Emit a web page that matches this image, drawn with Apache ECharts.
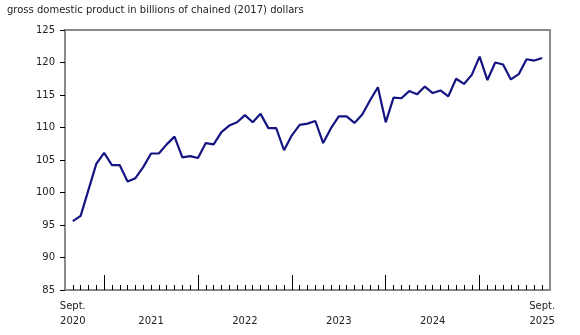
<!DOCTYPE html>
<html><head><meta charset="utf-8">
<script src="https://cdn.jsdelivr.net/npm/echarts@6/dist/echarts.min.js"></script>
<style>html,body{margin:0;padding:0;background:#fff}#c{width:580px;height:335px}</style>
</head><body><div id="c"></div>
<script>
// Monthly GDP, Sept 2020 to Sept 2025 (billions of chained 2017 dollars)
const months = [];
for (let y = 2020; y <= 2025; y++) {
  for (let m = 1; m <= 12; m++) {
    if ((y === 2020 && m < 9) || (y === 2025 && m > 9)) continue;
    months.push(y + '-' + String(m).padStart(2, '0'));
  }
}
const values = [
  95.6, 96.4, 100.4, 104.4, 106.1, 104.2, 104.2, 101.7, 102.2, 103.9, 106.0, 106.0,
  107.4, 108.6, 105.4, 105.6, 105.3, 107.6, 107.4, 109.3, 110.3, 110.8, 111.9, 110.8,
  112.1, 109.9, 109.9, 106.5, 108.8, 110.4, 110.6, 111.0, 107.6, 109.9, 111.7, 111.7,
  110.7, 112.0, 114.2, 116.2, 110.8, 114.6, 114.5, 115.6, 115.1, 116.3, 115.3, 115.7,
  114.8, 117.5, 116.7, 118.1, 120.9, 117.3, 120.0, 119.7, 117.4, 118.2, 120.5, 120.3,
  120.7
];
const yearLabels = ['2021', '2022', '2023', '2024'];
const yTicks = { min: 85, max: 125, step: 5 };
const title = 'gross domestic product in billions of chained (2017) dollars';

// pad one empty category at each end (frame extends one month beyond data)
const cats = [''].concat(months, ['']);
const seriesData = [null].concat(values, [null]);
const lastIdx = cats.length - 2;

function labelFor(idx, val) {
  if (idx === 1 || idx === lastIdx) return 'Sept.\n' + val.slice(0, 4);
  if (val && val.slice(5) === '07' && yearLabels.indexOf(val.slice(0, 4)) >= 0) return ' \n' + val.slice(0, 4);
  return '';
}

const font = 'DejaVu Sans, Verdana, sans-serif';
const chart = echarts.init(document.getElementById('c'));
chart.setOption({
  animation: false,
  title: {
    text: title, left: 2, top: 0,
    textStyle: { fontFamily: font, fontSize: 10, fontWeight: 'normal', color: '#222' }
  },
  grid: {
    left: 65, right: 30, top: 30, bottom: 45,
    show: true, borderColor: '#8a8a8a', borderWidth: 2, backgroundColor: 'transparent'
  },
  xAxis: [
    {
      type: 'category', data: cats, boundaryGap: false, position: 'bottom',
      axisLine: { show: true, lineStyle: { color: '#8a8a8a', width: 2 } },
      axisTick: {
        show: true, inside: true, length: 5,
        interval: (i) => i >= 1 && i <= lastIdx,
        lineStyle: { color: '#000', width: 1 }
      },
      axisLabel: {
        show: true, hideOverlap: false,
        interval: (i, v) => labelFor(i, v) !== '',
        formatter: (v, i) => labelFor(i, v),
        margin: 9, fontFamily: font, fontSize: 10, color: '#222', lineHeight: 15
      },
      splitLine: { show: false }
    },
    {
      type: 'category', data: cats, boundaryGap: false, position: 'bottom', offset: 0,
      axisLine: { show: false },
      axisTick: {
        show: true, inside: true, length: 15,
        interval: (i, v) => !!v && v.slice(5) === '01',
        lineStyle: { color: '#000', width: 1 }
      },
      axisLabel: { show: false },
      splitLine: { show: false }
    }
  ],
  yAxis: {
    type: 'value', min: yTicks.min, max: yTicks.max, interval: yTicks.step,
    axisLine: { show: true, lineStyle: { color: '#8a8a8a', width: 2 } },
    axisTick: { show: true, length: 5, lineStyle: { color: '#000', width: 1 } },
    axisLabel: { margin: 10, fontFamily: font, fontSize: 10, color: '#222' },
    splitLine: { show: false }
  },
  series: [{
    type: 'line', data: seriesData, xAxisIndex: 0,
    showSymbol: false, symbol: 'none', connectNulls: false,
    lineStyle: { color: '#141482', width: 2.2 }
  }]
});
</script></body></html>
